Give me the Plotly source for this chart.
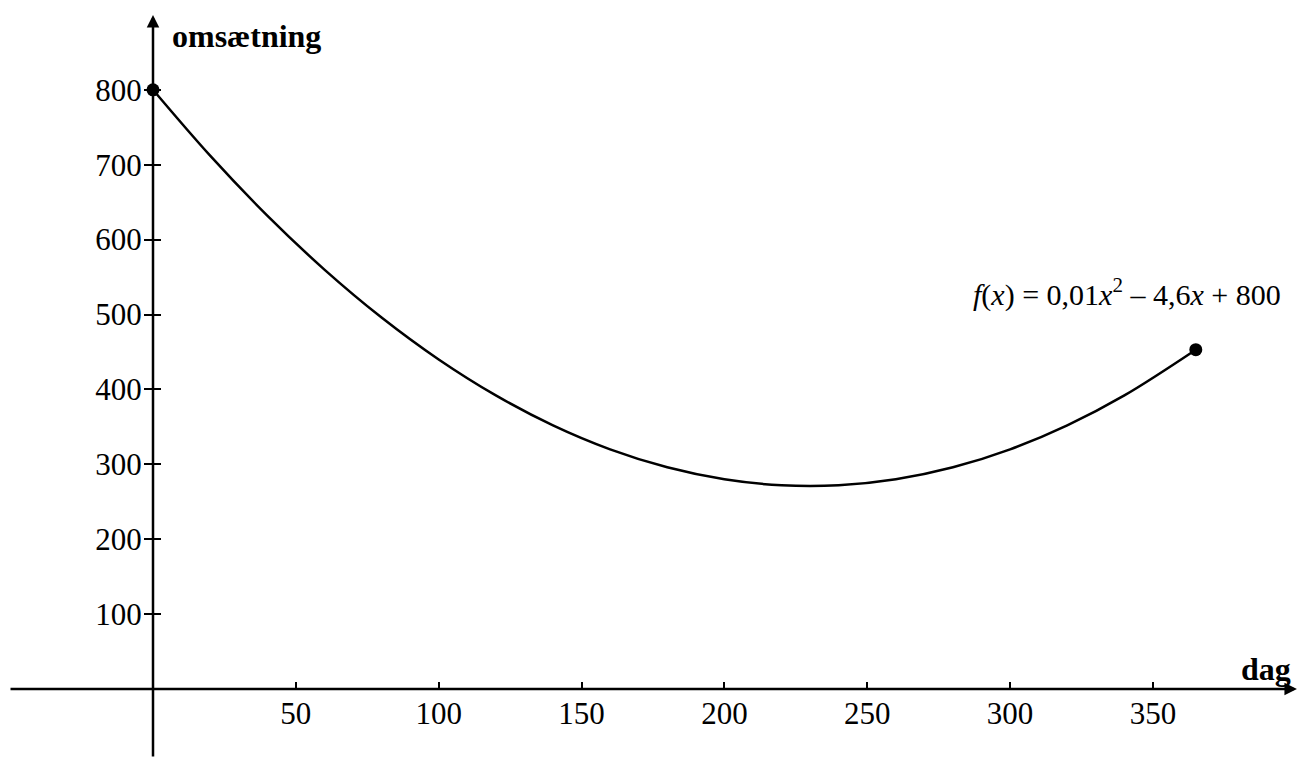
import plotly.graph_objects as go

# Data
days = [0, 20, 40, 60, 80, 100, 120, 140, 160, 180, 200, 220, 240, 260, 280, 300, 320, 340, 365]
revenue = [800, 712, 632, 560, 496, 440, 392, 352, 320, 296, 280, 272, 272, 280, 296, 320, 352, 392, 453]
end_days = [0, 365]
end_revenue = [800, 453]

x_ticks = [50, 100, 150, 200, 250, 300, 350]
x_ticktext = ["50", "100", "150", "200", "250", "300", "350"]
y_ticks = [100, 200, 300, 400, 500, 600, 700, 800]
y_ticktext = ["100", "200", "300", "400", "500", "600", "700", "800"]

x_label = "dag"
y_label = "omsætning"
formula = "<i>f</i>(<i>x</i>) = 0,01<i>x</i><sup>2</sup> – 4,6<i>x</i> + 800"

# page has an 8px body margin; figure is sized to fit the window
W, H = 1304, 750
X0PX, Y0PX = 145, 681          # pixel position of the origin inside the figure
SX, SY = 2.857, 0.749          # px per unit
XR = [-X0PX / SX, (W - X0PX) / SX]
YR = [-(H - Y0PX) / SY, Y0PX / SY]
FONT = "Liberation Serif"

fig = go.Figure()
fig.add_trace(go.Scatter(x=days, y=revenue, mode="lines",
                         line=dict(color="black", width=2.5, shape="spline", smoothing=1.0),
                         hoverinfo="skip", showlegend=False))
fig.add_trace(go.Scatter(x=end_days, y=end_revenue, mode="markers",
                         marker=dict(color="black", size=13),
                         hoverinfo="skip", showlegend=False, yaxis="y2"))

fig.update_layout(
    width=W, height=H,
    margin=dict(l=0, r=0, t=0, b=0),
    paper_bgcolor="white", plot_bgcolor="white",
    font=dict(family=FONT, color="black"),
    xaxis=dict(range=XR, anchor="free", position=(H - Y0PX) / H, side="bottom",
               showgrid=False, zeroline=False, showline=False,
               tickmode="array", tickvals=x_ticks, ticktext=x_ticktext,
               ticks="inside", ticklen=7, tickwidth=1.5, tickcolor="black",
               ticklabelstandoff=3,
               tickfont=dict(size=31, family=FONT, color="black")),
    yaxis=dict(range=YR, anchor="free", position=X0PX / W, side="left",
               showgrid=False, zeroline=False, showline=False,
               tickmode="array", tickvals=y_ticks, ticktext=y_ticktext,
               ticks="outside", ticklen=9, tickwidth=1.5, tickcolor="black",
               ticklabelstandoff=-4,
               tickfont=dict(size=31, family=FONT, color="black")),
    yaxis2=dict(range=YR, overlaying="y", anchor="free", position=X0PX / W, side="left",
                showgrid=False, zeroline=False, showline=False,
                tickmode="array", tickvals=y_ticks,
                ticks="inside", ticklen=7, tickwidth=1.5, tickcolor="black",
                showticklabels=False),
)

# axis arrows
fig.add_annotation(x=400.4, y=0, ax=-50.4, ay=0, xref="x", yref="y", axref="x", ayref="y",
                   text="", showarrow=True, arrowhead=2, arrowsize=1, arrowwidth=2.5, arrowcolor="black")
fig.add_annotation(x=0, y=900, ax=0, ay=YR[0], xref="x", yref="y", axref="x", ayref="y",
                   text="", showarrow=True, arrowhead=2, arrowsize=1, arrowwidth=2.5, arrowcolor="black")

# labels
fig.add_annotation(x=6, y=872, xref="x", yref="y", text="<b>" + y_label + "</b>", showarrow=False,
                   xanchor="left", yanchor="middle", font=dict(size=32, family=FONT, color="black"))
fig.add_annotation(x=399, y=27, xref="x", yref="y", text="<b>" + x_label + "</b>", showarrow=False,
                   xanchor="right", yanchor="middle", font=dict(size=32, family=FONT, color="black"))
fig.add_annotation(x=341, y=530, xref="x", yref="y", text=formula, showarrow=False,
                   xanchor="center", yanchor="middle", font=dict(size=30, family=FONT, color="black"))

fig.write_html("out.html", config={"displayModeBar": False})
